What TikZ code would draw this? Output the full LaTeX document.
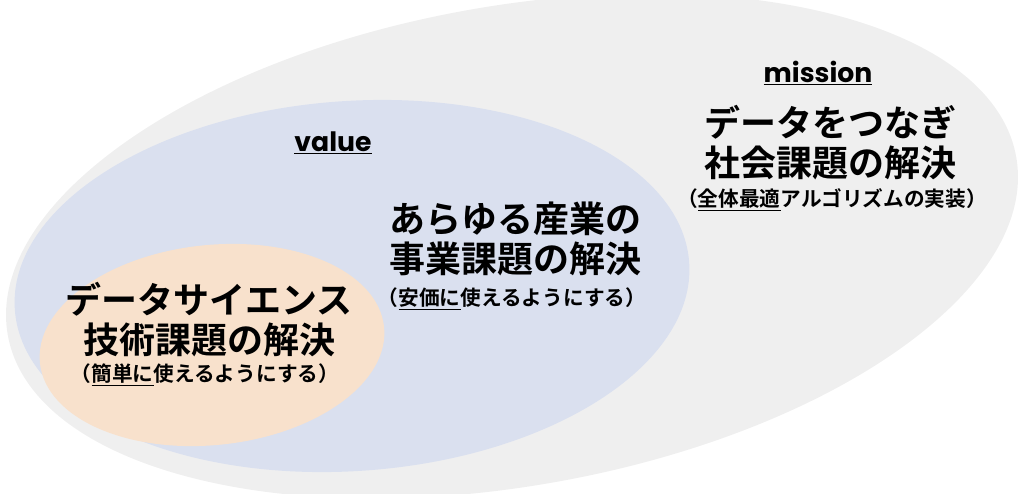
\documentclass[tikz,border=0pt]{standalone}
\usepackage{fontspec}
\setmainfont{Noto Sans CJK JP}[BoldFont={* Bold}]
\newfontfamily\latinfont{Poppins}[BoldFont={* Bold}]
\usepackage{tikz}
\usepackage{xcolor}
\definecolor{outergray}{HTML}{EFEFEF}
\definecolor{valueblue}{HTML}{DAE0EF}
\definecolor{techpeach}{HTML}{F8E1CC}
\tikzset{
  head/.style={font=\latinfont\bfseries\fontsize{20}{20}\selectfont},
  big/.style={font=\bfseries\fontsize{27}{30}\selectfont},
  sub/.style={font=\bfseries\fontsize{15.5}{16}\selectfont}
}
\begin{document}
\begin{tikzpicture}[x=0.75pt,y=-0.75pt]
\useasboundingbox (0,0) rectangle (1024,493);
\fill[outergray] (512,246) ellipse[x radius=512,y radius=240,rotate=10];
\fill[valueblue] (352,286) ellipse[x radius=338,y radius=185,rotate=4];
\fill[techpeach] (212,345) ellipse[x radius=173,y radius=100,rotate=6];
% mission
\node[head] (mission) at (818,73) {\underline{mission}};
\node[big,align=center] (missiontext) at (830,143) {データをつなぎ\\社会課題の解決};
\node[sub] (missionsub) at (832,200) {（\underline{全体最適}アルゴリズムの実装）};
% value
\node[head] (value) at (333,143) {\underline{value}};
\node[big,align=center] (valuetext) at (515,239) {あらゆる産業の\\事業課題の解決};
\node[sub] (valuesub) at (512,299) {（\underline{安価に}使えるようにする）};
% tech
\node[big,align=center] (techtext) at (209,320) {データサイエンス\\技術課題の解決};
\node[sub] (techsub) at (205,375) {（\underline{簡単に}使えるようにする）};
\end{tikzpicture}
\end{document}
